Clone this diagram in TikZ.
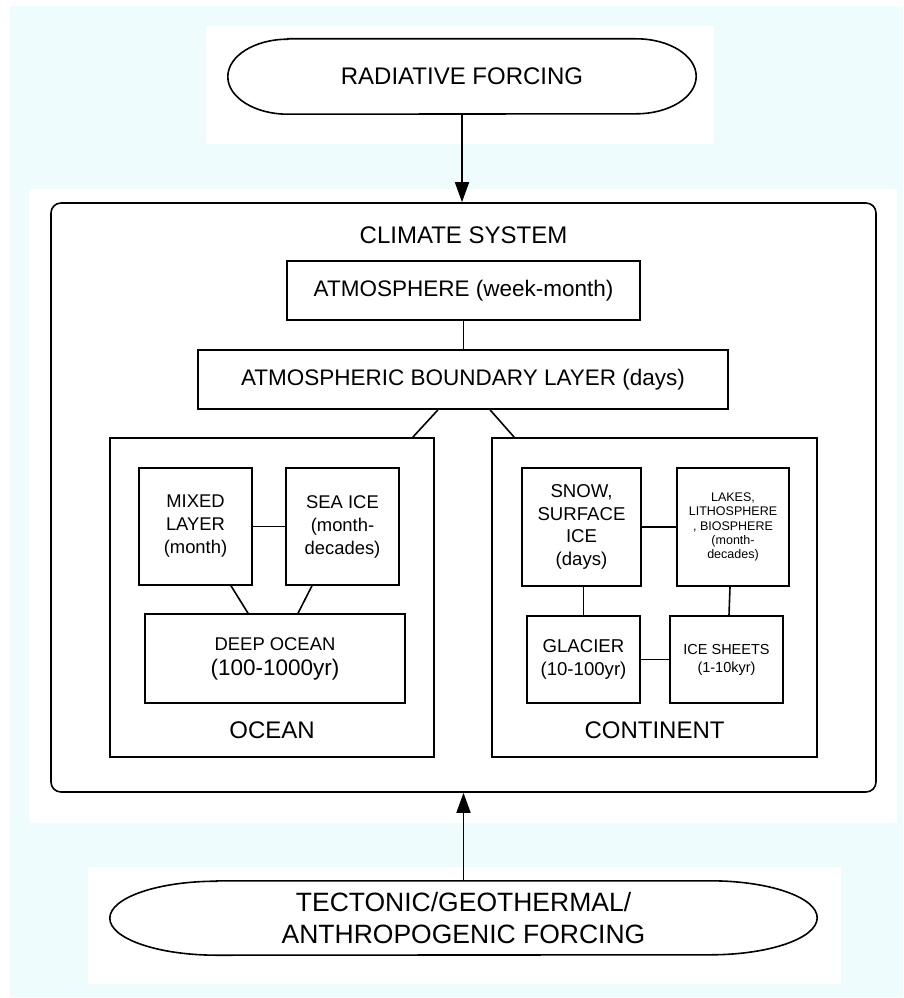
\documentclass[tikz,border=0pt]{standalone}
\usepackage{fontspec}
\setmainfont{Liberation Sans}
\usetikzlibrary{arrows.meta,calc}
\definecolor{bgcyan}{RGB}{238,252,253}
\begin{document}
\begin{tikzpicture}[x=1pt,y=1pt,
  box/.style={draw, line width=1.6pt, rectangle, inner sep=0pt, align=center, fill=white},
  lbl/.style={inner sep=0pt, align=center},
  conn/.style={line width=1.6pt},
  arr/.style={line width=1.6pt, -{Triangle[length=20pt,width=14pt]}},
  fbig/.style={font=\fontsize{24}{28}\selectfont},
  fmid/.style={font=\fontsize{22.5}{26}\selectfont},
  fsm/.style={font=\fontsize{18.4}{23}\selectfont},
]
\useasboundingbox (0,0) rectangle (903,-998);
\fill[bgcyan] (10,-6) rectangle (903,-997);
\fill[white] (206,-26) rectangle (714,-144);
\fill[white] (29,-189) rectangle (897,-823);
\fill[white] (88,-867) rectangle (841,-984);

% top forcing
\node[lbl, fbig, minimum width=348pt, minimum height=75pt] (rad) at (462,-76.5) {RADIATIVE FORCING};
\draw[conn] (rad.north west) -- (rad.north east)
  arc[start angle=90,end angle=-90,x radius=60,y radius=37.5]
  -- (rad.south west)
  arc[start angle=270,end angle=90,x radius=60,y radius=37.5] -- cycle;

% climate system
\node[box, rounded corners=10pt, minimum width=825pt, minimum height=589pt] (climate) at (463.5,-497.5) {};
\node[lbl, fbig] (climlabel) at (463.5,-235.5) {CLIMATE SYSTEM};

\node[box, fmid, minimum width=353pt, minimum height=59pt] (atm) at (463.5,-290.5) {ATMOSPHERE (week-month)};
\node[box, fmid, minimum width=530pt, minimum height=59pt] (abl) at (463,-379.5) {ATMOSPHERIC BOUNDARY LAYER (days)};

% ocean
\node[box, minimum width=324pt, minimum height=319pt] (ocean) at (272,-597.5) {};
\node[lbl, fbig] (oceanlabel) at (272,-730) {OCEAN};
\node[box, fsm, minimum width=113pt, minimum height=117pt] (mixed) at (195.5,-526.5) {MIXED\\LAYER\\(month)};
\node[box, fsm, minimum width=113pt, minimum height=117pt] (seaice) at (342.5,-526.5) {SEA ICE\\(month-\\decades)};
\node[box, font=\fontsize{18.4}{25}\selectfont, minimum width=260pt, minimum height=89pt] (deep) at (275,-658.5) {DEEP OCEAN\\{\fontsize{22.5}{25}\selectfont (100-1000yr)}};

% continent
\node[box, minimum width=325pt, minimum height=319pt] (cont) at (654.5,-597.5) {};
\node[lbl, fbig] (contlabel) at (654.5,-730) {CONTINENT};
\node[box, font=\fontsize{18.6}{22.5}\selectfont, minimum width=119pt, minimum height=118pt] (snow) at (581.5,-527) {SNOW,\\SURFACE\\ICE\\(days)};
\node[box, font=\fontsize{12.5}{14.3}\selectfont, minimum width=112pt, minimum height=118pt] (lakes) at (733,-527) {LAKES,\\LITHOSPHERE\\, BIOSPHERE\\(month-\\decades)};
\node[box, font=\fontsize{18.6}{23}\selectfont, minimum width=113pt, minimum height=87pt] (glacier) at (583.5,-659.5) {GLACIER\\(10-100yr)};
\node[box, font=\fontsize{14.5}{18}\selectfont, minimum width=113pt, minimum height=87pt] (ice) at (726.5,-659.5) {ICE SHEETS\\(1-10kyr)};

% bottom forcing
\node[lbl, font=\fontsize{26.5}{32}\selectfont, minimum width=493pt, minimum height=74pt] (tect) at (463.5,-918) {TECTONIC/GEOTHERMAL/\\ANTHROPOGENIC FORCING};
\draw[conn] (tect.north west) -- (tect.north east)
  arc[start angle=90,end angle=-90,x radius=107,y radius=37]
  -- (tect.south west)
  arc[start angle=270,end angle=90,x radius=107,y radius=37] -- cycle;

% connectors
\draw[arr] (rad.south) -- (rad.south |- climate.north);
\draw[arr] (tect.north) -- (tect.north |- climate.south);
\draw[conn] (atm.south) -- (atm.south |- abl.north);
\draw[conn] ([xshift=-25pt]abl.south) -- ([xshift=-22pt]ocean.north east);
\draw[conn] ([xshift=27pt]abl.south) -- ([xshift=23pt]cont.north west);
\draw[conn] (mixed.east) -- (mixed.east -| seaice.west);
\draw[conn] ([xshift=35.5pt]mixed.south) -- ([xshift=-27pt]deep.north);
\draw[conn] ([xshift=-30.5pt]seaice.south) -- ([xshift=23pt]deep.north);
\draw[conn] (snow.east) -- (snow.east -| lakes.west);
\draw[conn] (glacier.north |- snow.south) -- (glacier.north);
\draw[conn] ([xshift=-3pt]lakes.south) -- ([xshift=2.5pt]ice.north);
\draw[conn] (glacier.east) -- (glacier.east -| ice.west);
\end{tikzpicture}
\end{document}
